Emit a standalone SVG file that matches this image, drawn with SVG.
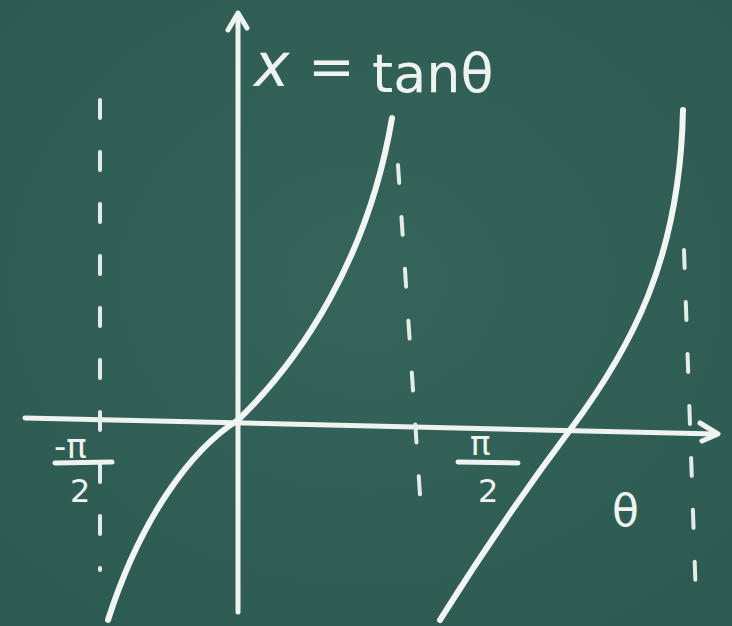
<svg xmlns="http://www.w3.org/2000/svg" width="732" height="626" viewBox="0 0 732 626">
<defs>
<radialGradient id="bg" cx="50%" cy="45%" r="75%">
<stop offset="0" stop-color="#35645b"/>
<stop offset="1" stop-color="#2c5a51"/>
</radialGradient>
</defs>
<style>
.ch{fill:none;stroke:#eef3f0;stroke-width:5;stroke-linecap:round;stroke-linejoin:round}
.cv{fill:none;stroke:#f2f6f3;stroke-width:6;stroke-linecap:round}
.ds{fill:none;stroke:#e4ece8;stroke-width:4;stroke-linecap:round;stroke-dasharray:18 34}
.t{fill:#eef3f0;font-family:"DejaVu Sans","Liberation Sans",sans-serif}
</style>
<rect width="732" height="626" fill="url(#bg)"/>
<g id="axes">
<path class="ch" d="M238 612 L238 14"/>
<path class="ch" d="M228 30 L238 13 L247 28"/>
<path class="ch" d="M25 418 L716 434"/>
<path class="ch" d="M700 423 L718 434 L702 441"/>
</g>
<g id="asymptotes">
<path class="ds" d="M100 100 L100 570"/>
<path class="ds" d="M398 165 L420 495"/>
<path class="ds" d="M684 250 L696 600"/>
</g>
<g id="curves">
<path class="cv" d="M108 620 C140 520 190 450 238 420 C300 360 368 260 392 118"/>
<path class="cv" d="M440 620 C490 540 540 470 570 430 C630 350 680 260 683 110"/>
</g>
<g id="labels">
<text class="t" x="254" y="86" font-size="60" font-style="italic">x</text>
<text class="t" x="308" y="86" font-size="56">=</text>
<text class="t" x="372" y="92" font-size="54">tanθ</text>
<text class="t" x="54" y="458" font-size="34">-π</text>
<path class="ch" d="M55 463 L112 462" stroke-width="4"/>
<text class="t" x="70" y="502" font-size="32">2</text>
<text class="t" x="470" y="455" font-size="34">π</text>
<path class="ch" d="M458 462 L518 463" stroke-width="4"/>
<text class="t" x="478" y="502" font-size="32">2</text>
<text class="t" x="612" y="526" font-size="44">θ</text>
</g>
</svg>
